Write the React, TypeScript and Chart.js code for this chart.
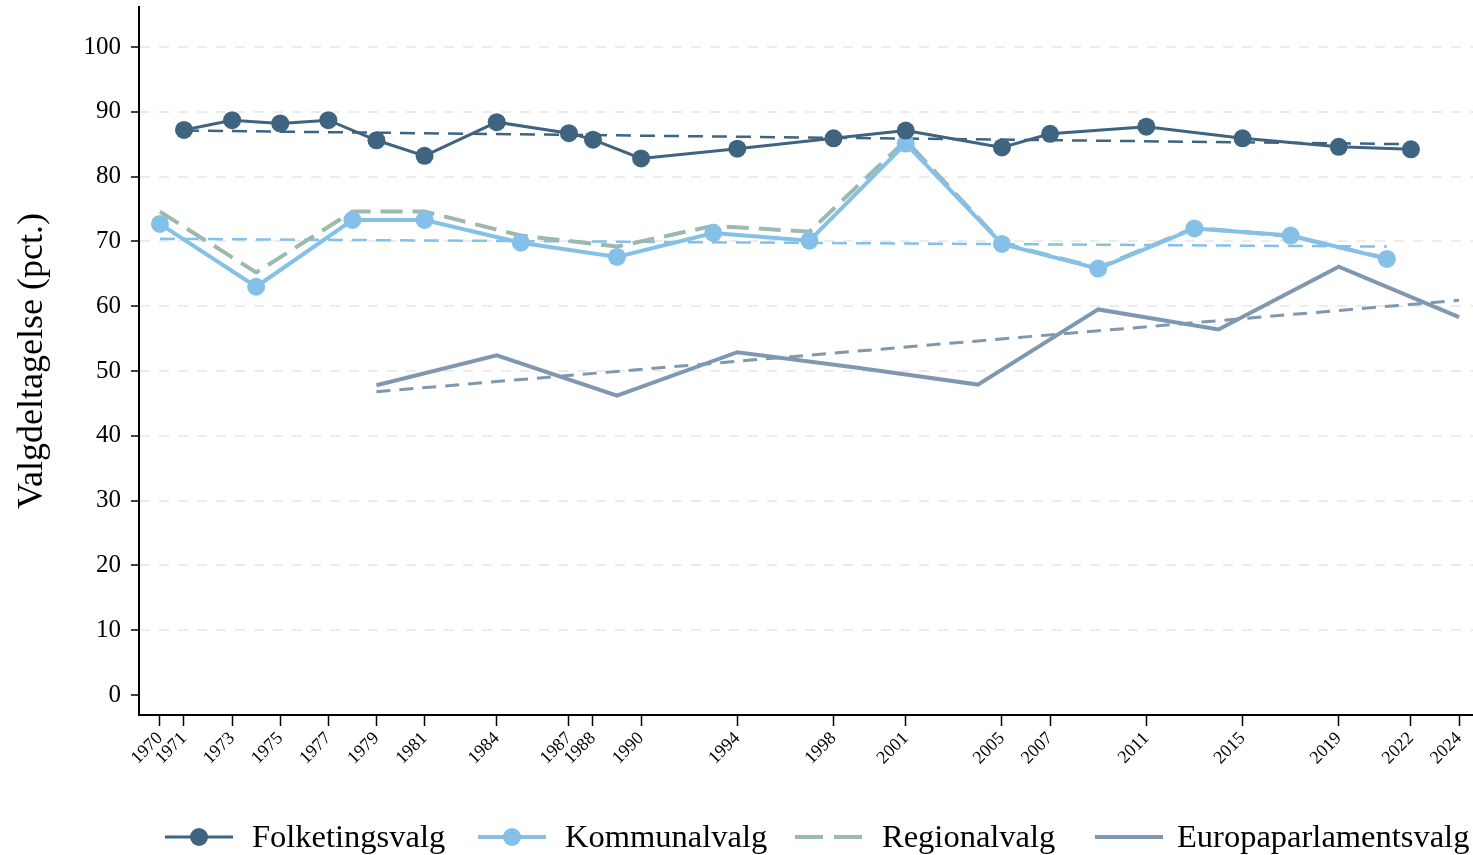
import { useEffect, useRef } from "react";
import { Chart, registerables } from "chart.js";

Chart.register(...registerables);

// ---------- data ----------
const xTickYears = [1970, 1971, 1973, 1975, 1977, 1979, 1981, 1984, 1987, 1988, 1990, 1994, 1998, 2001, 2005, 2007, 2011, 2015, 2019, 2022, 2024];
const yTickValues = [0, 10, 20, 30, 40, 50, 60, 70, 80, 90, 100];

const seriesNames = ["Folketingsvalg", "Kommunalvalg", "Regionalvalg", "Europaparlamentsvalg"];

const folkYears = [1971, 1973, 1975, 1977, 1979, 1981, 1984, 1987, 1988, 1990, 1994, 1998, 2001, 2005, 2007, 2011, 2015, 2019, 2022];
const folkValues = [87.2, 88.7, 88.2, 88.7, 85.6, 83.2, 88.4, 86.7, 85.7, 82.8, 84.3, 85.9, 87.1, 84.5, 86.6, 87.7, 85.9, 84.6, 84.2];

const kommYears = [1970, 1974, 1978, 1981, 1985, 1989, 1993, 1997, 2001, 2005, 2009, 2013, 2017, 2021];
const kommValues = [72.7, 63.0, 73.3, 73.3, 69.8, 67.6, 71.3, 70.1, 85.1, 69.6, 65.8, 72.0, 70.9, 67.3];

const regYears = [1970, 1974, 1978, 1981, 1985, 1989, 1993, 1997, 2001, 2005, 2009, 2013, 2017, 2021];
const regValues = [74.6, 65.2, 74.6, 74.6, 70.9, 69.2, 72.4, 71.5, 85.6, 69.7, 65.9, 72.1, 70.8, 67.4];

const euroYears = [1979, 1984, 1989, 1994, 1999, 2004, 2009, 2014, 2019, 2024];
const euroValues = [47.8, 52.4, 46.2, 52.9, 50.5, 47.9, 59.5, 56.4, 66.1, 58.3];

// linear trend lines (endpoints)
const folkTrendYears = [1971, 2022];
const folkTrendValues = [87.1, 85.0];
const kommTrendYears = [1970, 2021];
const kommTrendValues = [70.4, 69.2];
const euroTrendYears = [1979, 2024];
const euroTrendValues = [46.8, 60.9];

// ---------- style ----------
const X_MIN = 1969.13;
const X_MAX = 2024.58;
const Y_MIN = -3.09;
const Y_MAX = 106.17;

const C_FOLK = "#3e6480";
const C_KOMM = "#85c0e9";
const C_REG = "#9bb9ae";
const C_EURO = "#7f98b0";
const FONT = '"Liberation Serif", "Times New Roman", serif';

// legend layout (pixel positions of each legend entry's symbol and text start)
const legendSymbolX = [165, 478, 795, 1095];
const legendTextX = [252, 565, 882, 1177];

const toXY = (xs: number[], ys: number[]) => xs.map((x, i) => ({ x, y: ys[i] }));

const legendPlugin = {
  id: "customLegend",
  afterDraw(chart: any) {
    const ctx = chart.ctx as CanvasRenderingContext2D;
    ctx.save();
    ctx.font = `32.5px ${FONT}`;
    ctx.textBaseline = "middle";
    ctx.textAlign = "left";
    const symW = 68;
    const y = 837;
    const colors = [C_FOLK, C_KOMM, C_REG, C_EURO];
    seriesNames.forEach((name, i) => {
      const x = legendSymbolX[i];
      ctx.save();
      ctx.strokeStyle = colors[i];
      ctx.fillStyle = colors[i];
      ctx.lineWidth = i === 0 ? 3 : 4;
      if (i === 2) ctx.setLineDash([28, 11]);
      ctx.beginPath();
      ctx.moveTo(x, y);
      ctx.lineTo(x + symW, y);
      ctx.stroke();
      ctx.setLineDash([]);
      if (i < 2) {
        ctx.beginPath();
        ctx.arc(x + symW / 2, y, 9, 0, Math.PI * 2);
        ctx.fill();
      }
      ctx.restore();
      ctx.fillStyle = "#000";
      ctx.fillText(name, legendTextX[i], y + 1);
    });
    ctx.restore();
  },
};

export default function App() {
  const ref = useRef<HTMLCanvasElement>(null);

  useEffect(() => {
    document.body.style.margin = "0";
    document.body.style.background = "#fff";
    if (!ref.current) return;

    const chart = new Chart(ref.current, {
      type: "line",
      data: {
        datasets: [
          {
            label: seriesNames[0],
            data: toXY(folkYears, folkValues),
            borderColor: C_FOLK,
            backgroundColor: C_FOLK,
            borderWidth: 3,
            pointRadius: 9,
            pointBorderWidth: 0,
            pointBackgroundColor: C_FOLK,
            tension: 0,
          },
          {
            label: seriesNames[1],
            data: toXY(kommYears, kommValues),
            borderColor: C_KOMM,
            backgroundColor: C_KOMM,
            borderWidth: 4,
            pointRadius: 9,
            pointBorderWidth: 0,
            pointBackgroundColor: C_KOMM,
            tension: 0,
          },
          {
            label: seriesNames[2],
            data: toXY(regYears, regValues),
            borderColor: C_REG,
            borderWidth: 4,
            borderDash: [22, 10],
            pointRadius: 0,
            tension: 0,
          },
          {
            label: seriesNames[3],
            data: toXY(euroYears, euroValues),
            borderColor: C_EURO,
            borderWidth: 4,
            pointRadius: 0,
            tension: 0,
          },
          {
            label: "trend1",
            data: toXY(folkTrendYears, folkTrendValues),
            borderColor: C_FOLK,
            borderWidth: 2.5,
            borderDash: [15, 9],
            pointRadius: 0,
          },
          {
            label: "trend2",
            data: toXY(kommTrendYears, kommTrendValues),
            borderColor: C_KOMM,
            borderWidth: 2.5,
            borderDash: [15, 9],
            pointRadius: 0,
          },
          {
            label: "trend4",
            data: toXY(euroTrendYears, euroTrendValues),
            borderColor: C_EURO,
            borderWidth: 3,
            borderDash: [14, 9],
            pointRadius: 0,
          },
        ],
      },
      options: {
        responsive: false,
        animation: false,
        events: [],
        layout: { autoPadding: false, padding: { top: 7, left: 0, right: 0, bottom: 0 } },
        plugins: {
          legend: { display: false },
          tooltip: { enabled: false },
        },
        scales: {
          x: {
            type: "linear",
            min: X_MIN,
            max: X_MAX,
            afterBuildTicks: (s: any) => {
              s.ticks = xTickYears.map((v) => ({ value: v }));
            },
            ticks: {
              autoSkip: false,
              minRotation: 45,
              maxRotation: 45,
              padding: 2,
              color: "#000",
              font: { family: FONT, size: 18 },
              callback: (v: any) => String(v),
            },
            grid: {
              drawOnChartArea: false,
              tickLength: 11,
              tickColor: "#000",
              tickWidth: 1.5,
            },
            border: { color: "#000", width: 2 },
            afterFit: (s: any) => {
              s.height = 140;
              s.paddingLeft = 0;
              s.paddingRight = 0;
            },
          },
          y: {
            type: "linear",
            min: Y_MIN,
            max: Y_MAX,
            afterBuildTicks: (s: any) => {
              s.ticks = yTickValues.map((v) => ({ value: v }));
            },
            ticks: {
              padding: 10,
              color: "#000",
              font: { family: FONT, size: 25 },
              callback: (v: any) => String(v),
            },
            grid: {
              color: (c: any) => (c.tick && c.tick.value === 0 ? "rgba(0,0,0,0)" : "#ececec"),
              lineWidth: 2,
              tickLength: 8,
              tickColor: "#000",
              tickWidth: 1.5,
              tickBorderDash: [],
            },
            border: { color: "#000", width: 2, dash: [10, 9] },
            title: {
              display: true,
              text: "Valgdeltagelse (pct.)",
              color: "#000",
              font: { family: FONT, size: 36, lineHeight: 1.2 },
              padding: { top: 11, bottom: 0 },
            },
            afterFit: (s: any) => {
              s.width = 139;
              s.paddingTop = 0;
              s.paddingBottom = 0;
            },
          },
        },
      },
      plugins: [legendPlugin],
    } as any);

    return () => chart.destroy();
  }, []);

  return (
    <div style={{ width: 1473, height: 855 }}>
      <canvas ref={ref} width={1473} height={855} style={{ display: "block" }} />
    </div>
  );
}
